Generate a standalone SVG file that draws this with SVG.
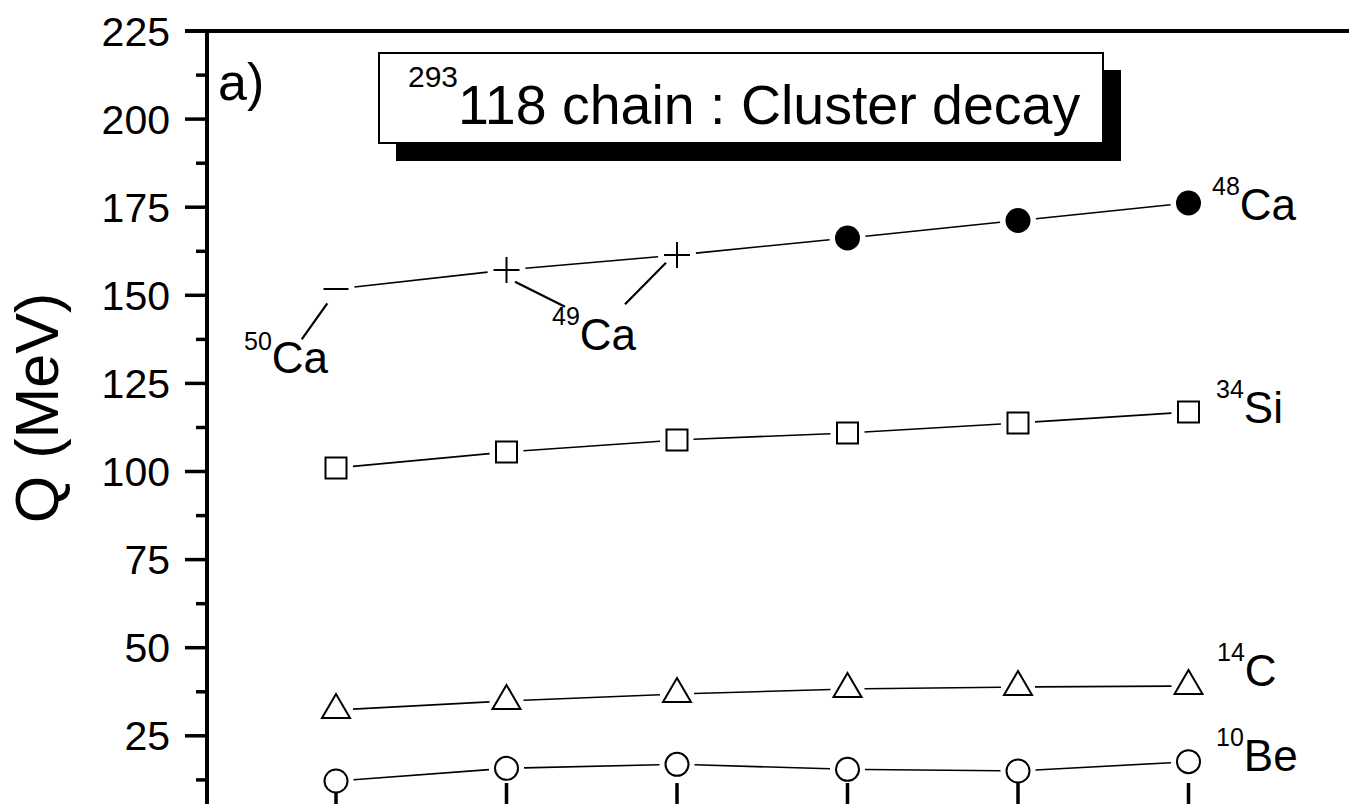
<svg xmlns="http://www.w3.org/2000/svg" width="1349" height="804" viewBox="0 0 1349 804">
<style>
text{font-family:"Liberation Sans",Arial,sans-serif;fill:#000}
.tick{font-size:41px;text-anchor:end}
.lbl{font-size:44px}
.sup{font-size:25px}
.ax{stroke:#000;stroke-width:4;fill:none}
.tk{stroke:#000;stroke-width:3.5;fill:none}
.cn line{stroke:#000;stroke-width:1.6}
.open{fill:#fff;stroke:#000;stroke-width:2}
.mk{stroke:#000;stroke-width:2;fill:none}
</style>
<rect width="1349" height="804" fill="#fff"/>
<g id="axes">
<line class="ax" x1="207" y1="29" x2="207" y2="804"/>
<line class="ax" x1="185" y1="31" x2="1349" y2="31"/>
<g class="tk">
<line x1="185" y1="119.1" x2="207" y2="119.1"/>
<line x1="185" y1="207.2" x2="207" y2="207.2"/>
<line x1="185" y1="295.3" x2="207" y2="295.3"/>
<line x1="185" y1="383.4" x2="207" y2="383.4"/>
<line x1="185" y1="471.5" x2="207" y2="471.5"/>
<line x1="185" y1="559.6" x2="207" y2="559.6"/>
<line x1="185" y1="647.7" x2="207" y2="647.7"/>
<line x1="185" y1="735.8" x2="207" y2="735.8"/>
<line x1="196" y1="75.1" x2="207" y2="75.1"/>
<line x1="196" y1="163.2" x2="207" y2="163.2"/>
<line x1="196" y1="251.3" x2="207" y2="251.3"/>
<line x1="196" y1="339.4" x2="207" y2="339.4"/>
<line x1="196" y1="427.5" x2="207" y2="427.5"/>
<line x1="196" y1="515.6" x2="207" y2="515.6"/>
<line x1="196" y1="603.7" x2="207" y2="603.7"/>
<line x1="196" y1="691.8" x2="207" y2="691.8"/>
<line x1="196" y1="779.9" x2="207" y2="779.9"/>
<line x1="336" y1="783" x2="336" y2="804"/>
<line x1="506.5" y1="783" x2="506.5" y2="804"/>
<line x1="677" y1="783" x2="677" y2="804"/>
<line x1="847.5" y1="783" x2="847.5" y2="804"/>
<line x1="1018" y1="783" x2="1018" y2="804"/>
<line x1="1188.5" y1="783" x2="1188.5" y2="804"/>
</g>
<text class="tick" x="170" y="45.5">225</text>
<text class="tick" x="170" y="133.6">200</text>
<text class="tick" x="170" y="221.7">175</text>
<text class="tick" x="170" y="309.8">150</text>
<text class="tick" x="170" y="397.9">125</text>
<text class="tick" x="170" y="486">100</text>
<text class="tick" x="170" y="574.1">75</text>
<text class="tick" x="170" y="662.2">50</text>
<text class="tick" x="170" y="750.3">25</text>
<text x="58" y="408" transform="rotate(-90 58 408)" style="font-size:61px;text-anchor:middle">Q (MeV)</text>
<text x="218" y="100" style="font-size:52px">a)</text>
</g>
<g id="title">
<rect x="396" y="70" width="725" height="91" fill="#000"/>
<rect x="379" y="53" width="724" height="90" fill="#fff" stroke="#000" stroke-width="2"/>
<text x="408" y="124" style="font-size:55.5px"><tspan style="font-size:30px" dy="-37">293</tspan><tspan dy="37">118 chain : Cluster decay</tspan></text>
</g>
<g id="connectors" class="cn">
<line x1="354.4" y1="287" x2="487.6" y2="272.1"/>
<line x1="525.4" y1="268.3" x2="658.1" y2="256.7"/>
<line x1="695.9" y1="253.1" x2="829.6" y2="239.7"/>
<line x1="865.4" y1="236.2" x2="1000.1" y2="222.3"/>
<line x1="1035.9" y1="218.7" x2="1170.6" y2="204.8"/>
<line x1="352.9" y1="466.4" x2="489.6" y2="453.6"/>
<line x1="523.5" y1="450.8" x2="660" y2="441.2"/>
<line x1="693.5" y1="439.3" x2="830.5" y2="433.7"/>
<line x1="864.5" y1="432" x2="1001" y2="424"/>
<line x1="1035" y1="421.9" x2="1171.5" y2="413.1"/>
<line x1="353" y1="709.1" x2="489.5" y2="701.9"/>
<line x1="523.5" y1="700.3" x2="660" y2="694.7"/>
<line x1="694" y1="693.5" x2="830.5" y2="689.5"/>
<line x1="864.5" y1="688.8" x2="1001" y2="687.2"/>
<line x1="1035" y1="686.9" x2="1171.5" y2="686.1"/>
<line x1="353.5" y1="779.7" x2="489" y2="769.6"/>
<line x1="524" y1="767.9" x2="659.5" y2="764.7"/>
<line x1="694.5" y1="764.8" x2="830" y2="768.8"/>
<line x1="865" y1="769.5" x2="1000.5" y2="770.8"/>
<line x1="1035.5" y1="770" x2="1171" y2="762.7"/>
<line x1="327.3" y1="303.3" x2="301.7" y2="339.3" style="stroke-width:2.2"/>
<line x1="515" y1="281.7" x2="565" y2="306.7" style="stroke-width:2.2"/>
<line x1="666" y1="262.7" x2="625" y2="304.3" style="stroke-width:2.2"/>
</g>
<g id="ca48">
<circle cx="847.5" cy="238" r="12.5"/>
<circle cx="1018" cy="220.5" r="12.5"/>
<circle cx="1188.5" cy="203" r="12.5"/>
<text class="lbl" x="1212" y="220"><tspan class="sup" dy="-25">48</tspan><tspan dy="25">Ca</tspan></text>
</g>
<g id="ca49">
<path class="mk" d="M493.5 270h26M506.5 257v26M664 255h26M677 242v26"/>
<text class="lbl" x="552" y="350"><tspan class="sup" dy="-25">49</tspan><tspan dy="25">Ca</tspan></text>
</g>
<g id="ca50">
<path class="mk" d="M323.5 289h25"/>
<text class="lbl" x="244" y="373"><tspan class="sup" dy="-23">50</tspan><tspan dy="23">Ca</tspan></text>
</g>
<g id="si34">
<rect class="open" x="325.5" y="457.5" width="21" height="21"/>
<rect class="open" x="496" y="441.5" width="21" height="21"/>
<rect class="open" x="666.5" y="429.5" width="21" height="21"/>
<rect class="open" x="837" y="422.5" width="21" height="21"/>
<rect class="open" x="1007.5" y="412.5" width="21" height="21"/>
<rect class="open" x="1178" y="401.5" width="21" height="21"/>
<text class="lbl" x="1216" y="423"><tspan class="sup" dy="-25">34</tspan><tspan dy="25">Si</tspan></text>
</g>
<g id="c14">
<path class="open" d="M336 694l14 24h-28z"/>
<path class="open" d="M506.5 685l14 24h-28z"/>
<path class="open" d="M677 678l14 24h-28z"/>
<path class="open" d="M847.5 673l14 24h-28z"/>
<path class="open" d="M1018 671l14 24h-28z"/>
<path class="open" d="M1188.5 670l14 24h-28z"/>
<text class="lbl" x="1217" y="686"><tspan class="sup" dy="-25">14</tspan><tspan dy="25">C</tspan></text>
</g>
<g id="be10">
<circle class="open" cx="336" cy="781" r="11.5"/>
<circle class="open" cx="506.5" cy="768.3" r="11.5"/>
<circle class="open" cx="677" cy="764.3" r="11.5"/>
<circle class="open" cx="847.5" cy="769.3" r="11.5"/>
<circle class="open" cx="1018" cy="771" r="11.5"/>
<circle class="open" cx="1188.5" cy="761.7" r="11.5"/>
<text class="lbl" x="1216" y="771"><tspan class="sup" dy="-25">10</tspan><tspan dy="25">Be</tspan></text>
</g>
</svg>
